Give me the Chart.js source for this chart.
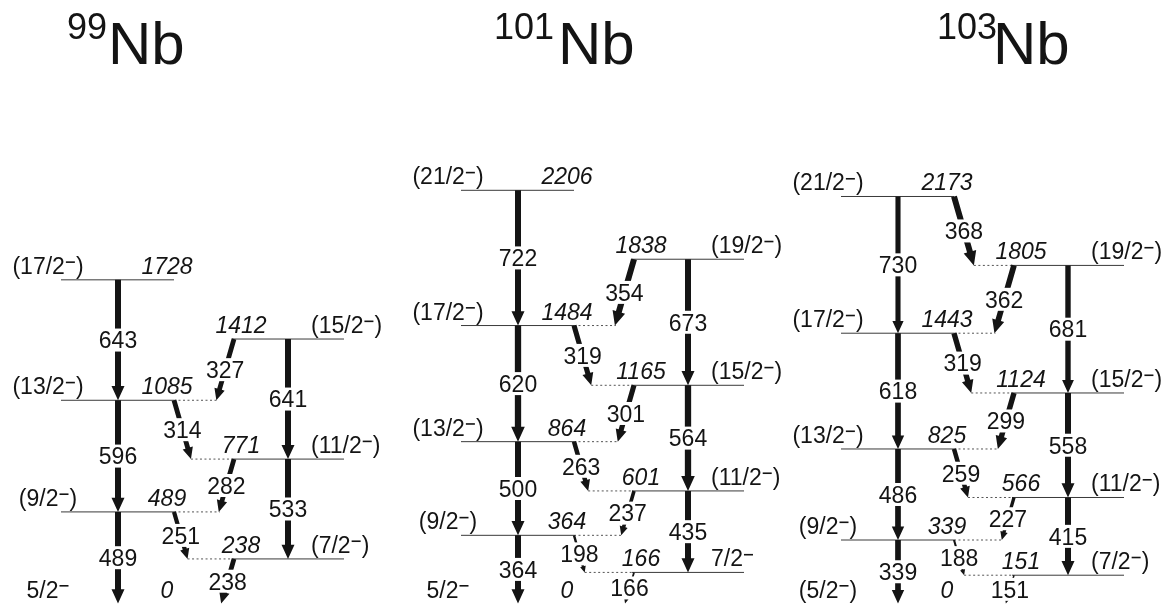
<!DOCTYPE html>
<html>
<head>
<meta charset="utf-8">
<script src="https://cdn.jsdelivr.net/npm/chart.js@4.4.1/dist/chart.umd.min.js"></script>
<style>
  html, body { margin: 0; padding: 0; background: #fff; }
  #wrap { width: 1169px; height: 605px; }
</style>
</head>
<body>
<div id="wrap"><canvas id="scheme" width="1169" height="605"></canvas></div>
<script>
// Negative-parity bands of the odd Nb isotopes: level energies (keV), spins,
// gamma rays (initial level, gamma energy) and relative gamma intensities.
const massNumbers = ['99', '101', '103'];

const nb99LevelsA = [1728, 1085, 489, 0];
const nb99SpinsA = ['(17/2-)', '(13/2-)', '(9/2-)', '5/2-'];
const nb99LevelsB = [1412, 771, 238];
const nb99SpinsB = ['(15/2-)', '(11/2-)', '(7/2-)'];
const nb99GammaFrom = [1728, 1085, 489, 1412, 771, 1412, 1085, 771, 489, 238];
const nb99GammaEnergy = [643, 596, 489, 641, 533, 327, 314, 282, 251, 238];
const nb99GammaIntensity = [100, 100, 100, 100, 100, 80, 80, 80, 70, 80];

const nb101LevelsA = [2206, 1484, 864, 364, 0];
const nb101SpinsA = ['(21/2-)', '(17/2-)', '(13/2-)', '(9/2-)', '5/2-'];
const nb101LevelsB = [1838, 1165, 601, 166];
const nb101SpinsB = ['(19/2-)', '(15/2-)', '(11/2-)', '7/2-'];
const nb101GammaFrom = [2206, 1484, 864, 364, 1838, 1165, 601, 1838, 1484, 1165, 864, 601, 364, 166];
const nb101GammaEnergy = [722, 620, 500, 364, 673, 564, 435, 354, 319, 301, 263, 237, 198, 166];
const nb101GammaIntensity = [100, 105, 100, 100, 100, 105, 100, 100, 85, 85, 75, 60, 40, 30];

const nb103LevelsA = [2173, 1443, 825, 339, 0];
const nb103SpinsA = ['(21/2-)', '(17/2-)', '(13/2-)', '(9/2-)', '(5/2-)'];
const nb103LevelsB = [1805, 1124, 566, 151];
const nb103SpinsB = ['(19/2-)', '(15/2-)', '(11/2-)', '(7/2-)'];
const nb103GammaFrom = [2173, 1443, 825, 339, 1805, 1124, 566, 2173, 1805, 1443, 1124, 825, 566, 339, 151];
const nb103GammaEnergy = [730, 618, 486, 339, 681, 558, 415, 368, 362, 319, 299, 259, 227, 188, 151];
const nb103GammaIntensity = [85, 95, 95, 95, 90, 100, 100, 100, 95, 90, 90, 75, 55, 35, 25];

// Page layout, in x-axis units (one unit per pixel across the canvas)
const LAYOUT = {
  offsets: [0, 400, 780],
  aL: 61, aR: 174, aX: 118,          // left band: level line span and in-band arrow
  bL: 232, bR: 344, bX: 288,         // right band
  bStart: 234,                        // where right→left transitions leave a level
  slant: 0.054,                       // sideways drift of cross-band arrows per keV
  spinAX: 48, energyAX: 167, energyBX: 241, spinBX: 311,
  titleNbX: [108, 558, 993], titleSupX: [107, 554, 997]
};

const FONT = '"Liberation Sans", Arial, Helvetica, sans-serif';
const SIZE = 23;
const INK = '#141414';
const LEVEL_COLOR = '#3a3a3a';

const nuclei = [
  { A: nb99LevelsA, sA: nb99SpinsA, B: nb99LevelsB, sB: nb99SpinsB,
    from: nb99GammaFrom, eg: nb99GammaEnergy, inten: nb99GammaIntensity },
  { A: nb101LevelsA, sA: nb101SpinsA, B: nb101LevelsB, sB: nb101SpinsB,
    from: nb101GammaFrom, eg: nb101GammaEnergy, inten: nb101GammaIntensity },
  { A: nb103LevelsA, sA: nb103SpinsA, B: nb103LevelsB, sB: nb103SpinsB,
    from: nb103GammaFrom, eg: nb103GammaEnergy, inten: nb103GammaIntensity }
];

const datasets = [];
const transitions = [];   // arrows in data coordinates
const texts = [];         // level annotations in data coordinates

function levelLine(x1, x2, e, dotted) {
  datasets.push({
    data: [{ x: x1, y: e }, { x: x2, y: e }],
    showLine: true,
    borderColor: dotted ? '#555' : LEVEL_COLOR,
    borderWidth: 1,
    borderDash: dotted ? [2, 2.5] : [],
    pointRadius: 0,
    fill: false
  });
}

nuclei.forEach((n, k) => {
  const ox = LAYOUT.offsets[k];

  // level lines and their labels
  n.A.forEach((e, i) => {
    if (e !== 0) levelLine(ox + LAYOUT.aL, ox + LAYOUT.aR, e, false);
    texts.push({ kind: 'spin', text: n.sA[i], x: ox + LAYOUT.spinAX, e, align: 'center' });
    texts.push({ kind: 'energy', text: String(e), x: ox + LAYOUT.energyAX, e, align: 'center' });
  });
  n.B.forEach((e, i) => {
    levelLine(ox + LAYOUT.bL, ox + LAYOUT.bR, e, false);
    texts.push({ kind: 'spin', text: n.sB[i], x: ox + LAYOUT.spinBX, e, align: 'left' });
    texts.push({ kind: 'energy', text: String(e), x: ox + LAYOUT.energyBX, e, align: 'center' });
  });

  // gamma transitions
  n.from.forEach((ei, i) => {
    const eg = n.eg[i];
    const ef = ei - eg;
    const fromA = n.A.includes(ei);
    const toA = n.A.includes(ef);
    const w = 6 * n.inten[i] / 100;
    let x1, x2;
    if (fromA && toA) { x1 = x2 = ox + LAYOUT.aX; }
    else if (!fromA && !toA) { x1 = x2 = ox + LAYOUT.bX; }
    else if (fromA) {
      x1 = ox + LAYOUT.aR;
      x2 = x1 + LAYOUT.slant * eg;
      levelLine(x2, ox + LAYOUT.bL, ef, true);
    } else {
      x1 = ox + LAYOUT.bStart;
      x2 = x1 - LAYOUT.slant * eg;
      if (ef !== 0) levelLine(ox + LAYOUT.aR, x2 + 1, ef, true);
    }
    transitions.push({ x1, e1: ei, x2, e2: ef, w, label: String(eg) });
  });
});

// Spin label with superscript minus signs ("-" marks the parity sign)
function spinWidth(ctx, s) {
  const parts = s.split('-');
  let w = 0;
  parts.forEach((p, i) => { w += ctx.measureText(p).width; if (i < parts.length - 1) w += 11; });
  return w;
}
function drawSpin(ctx, s, x, y, align) {
  ctx.font = `${SIZE}px ${FONT}`;
  ctx.textAlign = 'left';
  const total = spinWidth(ctx, s);
  let cx = align === 'center' ? x - total / 2 : (align === 'right' ? x - total : x);
  const parts = s.split('-');
  parts.forEach((p, i) => {
    ctx.fillText(p, cx, y);
    cx += ctx.measureText(p).width;
    if (i < parts.length - 1) {
      ctx.fillRect(cx + 1, y - 12.5, 9, 1.6);
      cx += 11;
    }
  });
}

function drawArrow(ctx, x1, y1, x2, y2, w) {
  const dx = x2 - x1, dy = y2 - y1;
  const len = Math.hypot(dx, dy);
  const ux = dx / len, uy = dy / len;
  const px = -uy, py = ux;
  const hw = 2 * w + 1, hl = 2.2 * w + 1;
  const bx = x2 - ux * hl, by = y2 - uy * hl;
  ctx.beginPath();
  ctx.moveTo(x1 + px * w / 2, y1 + py * w / 2);
  ctx.lineTo(bx + px * w / 2, by + py * w / 2);
  ctx.lineTo(bx + px * hw / 2, by + py * hw / 2);
  ctx.lineTo(x2, y2);
  ctx.lineTo(bx - px * hw / 2, by - py * hw / 2);
  ctx.lineTo(bx - px * w / 2, by - py * w / 2);
  ctx.lineTo(x1 - px * w / 2, y1 - py * w / 2);
  ctx.closePath();
  ctx.fill();
}

const schemePlugin = {
  id: 'levelScheme',
  afterDatasetsDraw(chart) {
    const ctx = chart.ctx;
    const xs = chart.scales.x, ys = chart.scales.y;
    ctx.save();
    ctx.fillStyle = INK;

    // arrows
    transitions.forEach(t => {
      drawArrow(ctx, xs.getPixelForValue(t.x1), ys.getPixelForValue(t.e1),
                xs.getPixelForValue(t.x2), ys.getPixelForValue(t.e2), t.w);
    });

    // gamma-energy labels, each in a gap cut into its arrow
    ctx.font = `${SIZE}px ${FONT}`;
    ctx.textAlign = 'center';
    ctx.textBaseline = 'alphabetic';
    transitions.forEach(t => {
      const mx = (xs.getPixelForValue(t.x1) + xs.getPixelForValue(t.x2)) / 2;
      const my = (ys.getPixelForValue(t.e1) + ys.getPixelForValue(t.e2)) / 2;
      const tw = ctx.measureText(t.label).width;
      ctx.fillStyle = '#fff';
      ctx.fillRect(mx - tw / 2 - 1, my - 11.5, tw + 2, 23);
      ctx.fillStyle = INK;
      ctx.fillText(t.label, mx, my + 8.3);
    });

    // spins and level energies
    texts.forEach(t => {
      const x = xs.getPixelForValue(t.x);
      const y = ys.getPixelForValue(t.e) - 6;
      if (t.kind === 'spin') {
        drawSpin(ctx, t.text, x, y, t.align);
      } else {
        ctx.font = `italic ${SIZE}px ${FONT}`;
        ctx.textAlign = t.align;
        ctx.fillText(t.text, x, y);
      }
    });

    // nucleus titles
    massNumbers.forEach((a, k) => {
      ctx.font = `36px ${FONT}`;
      ctx.textAlign = 'right';
      ctx.fillText(a, LAYOUT.titleSupX[k], 39);
      ctx.font = `60px ${FONT}`;
      ctx.textAlign = 'left';
      ctx.fillText('Nb', LAYOUT.titleNbX[k], 64);
    });
    ctx.restore();
  }
};

new Chart(document.getElementById('scheme'), {
  type: 'scatter',
  data: { datasets },
  options: {
    responsive: false,
    animation: false,
    devicePixelRatio: 1,
    events: [],
    layout: { padding: 0 },
    plugins: { legend: { display: false }, tooltip: { enabled: false } },
    scales: {
      x: { type: 'linear', min: 0, max: 1169, display: false },
      y: { type: 'linear', min: -8, max: 3222, display: false }
    }
  },
  plugins: [schemePlugin]
});
</script>
</body>
</html>
